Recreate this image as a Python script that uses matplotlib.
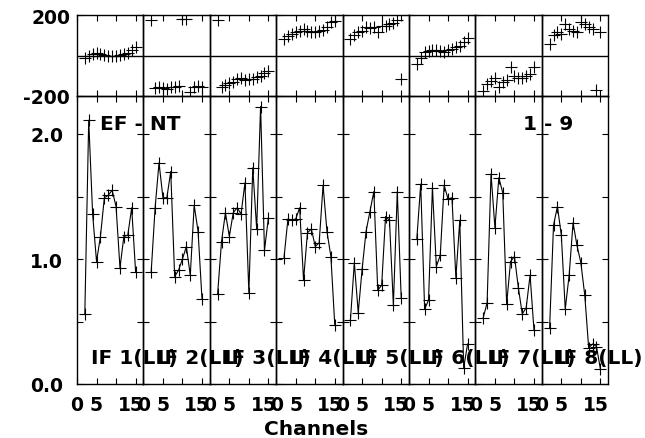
import matplotlib.pyplot as plt
import numpy as np
from matplotlib.transforms import ScaledTranslation

plt.rcParams['font.family'] = ['DejaVu Sans']
plt.rcParams['font.weight'] = 'bold'

channels = np.arange(2, 16)
if_names = ['IF 1(LL)', 'IF 2(LL)', 'IF 3(LL)', 'IF 4(LL)',
            'IF 5(LL)', 'IF 6(LL)', 'IF 7(LL)', 'IF 8(LL)']

# amplitude per IF (channels 2..15)
amp_if1 = [0.56, 2.11, 1.36, 0.98, 1.18, 1.49, 1.51, 1.55, 1.42, 0.93, 1.18, 1.19, 1.41, 0.90]
amp_if2 = [0.90, 1.41, 1.77, 1.49, 1.49, 1.70, 0.86, 0.91, 1.00, 1.10, 0.87, 1.43, 1.22, 0.68]
amp_if3 = [0.72, 1.14, 1.37, 1.18, 1.37, 1.41, 1.36, 1.61, 0.73, 1.73, 1.24, 2.22, 1.07, 1.33]
amp_if4 = [1.01, 1.32, 1.31, 1.32, 1.41, 0.83, 1.21, 1.24, 1.10, 1.13, 1.59, 1.22, 1.02, 0.47]
amp_if5 = [0.51, 0.97, 0.57, 0.92, 1.22, 1.38, 1.54, 0.75, 0.79, 1.34, 1.31, 0.63, 1.54, 0.69]
amp_if6 = [1.16, 1.60, 0.60, 0.67, 1.57, 0.94, 1.03, 1.59, 1.48, 1.49, 0.85, 1.31, 0.13, 0.32]
amp_if7 = [0.53, 0.65, 1.68, 1.25, 1.65, 1.53, 0.64, 0.98, 1.02, 0.77, 0.56, 0.61, 0.87, 0.43]
amp_if8 = [0.45, 1.27, 1.42, 1.19, 0.60, 0.87, 1.29, 1.11, 0.97, 0.71, 0.29, 0.32, 0.30, 0.12]

# phase per IF (degrees)
ph_if1 = [-10, -2, 5, 10, 8, 2, -2, 0, -3, 2, 5, 12, 25, 40]
ph_if2 = [175, -162, -158, -162, -165, -158, -155, -150, 178, 178, -182, -155, -150, -155]
ph_if3 = [177, -157, -145, -138, -130, -118, -112, -120, -118, -115, -108, -100, -85, -78]
ph_if4 = [82, 95, 106, 114, 123, 131, 123, 118, 118, 123, 128, 139, 164, 172]
ph_if5 = [82, 100, 114, 123, 139, 134, 139, 114, 147, 147, 156, 160, 177, -116]
ph_if6 = [-42, -12, 16, 24, 29, 26, 20, 19, 29, 33, 40, 48, 68, 85]
ph_if7 = [-174, -141, -124, -113, -157, -133, -120, -58, -103, -113, -110, -100, -91, -58]
ph_if8 = [57, 100, 115, 106, 156, 131, 120, 115, 164, 156, 140, 131, -169, 115]

amps = [amp_if1, amp_if2, amp_if3, amp_if4, amp_if5, amp_if6, amp_if7, amp_if8]
phases = [ph_if1, ph_if2, ph_if3, ph_if4, ph_if5, ph_if6, ph_if7, ph_if8]

W, H = 645, 439
fig = plt.figure(figsize=(W / 100, H / 100), dpi=100)

x0 = 77 / W
pw = 66.4 / W
shift = ScaledTranslation(-5 / 100, 0, fig.dpi_scale_trans)

for i in range(8):
    axp = fig.add_axes([x0 + i * pw, 1 - 97 / H, pw, 81 / H])
    axa = fig.add_axes([x0 + i * pw, 54 / H, pw, 288 / H])
    for ax in (axp, axa):
        ax.patch.set_visible(False)
        ax.set_xlim(0, 17)
        ax.set_xticks([0, 5, 10, 15])
        ax.tick_params(which='both', direction='in', top=True, bottom=True,
                       left=True, right=True, length=4, width=0.8,
                       labelsize=13.5)
        for s in ax.spines.values():
            s.set_linewidth(1.0)

    # phase
    axp.plot(channels, phases[i], '+', color='black', ms=9, mew=0.8)
    axp.axhline(0, color='black', lw=1.0)
    axp.set_ylim(-200, 200)
    axp.set_yticks([-200, 200])
    axp.set_xticklabels([])
    if i == 0:
        axp.set_yticklabels(['-200', '200'])
        axp.tick_params(axis='y', pad=5)
    else:
        axp.set_yticklabels([])

    # amplitude
    axa.plot(channels, amps[i], '-', color='black', lw=0.8)
    axa.plot(channels, amps[i], '+', color='black', ms=9, mew=0.8)
    axa.set_ylim(0, 2.304)
    axa.set_yticks([0, 1, 2])
    axa.set_yticks([0.5, 1.5], minor=True)
    if i == 0:
        axa.set_yticklabels(['0.0', '1.0', '2.0'])
        axa.tick_params(axis='y', pad=10)
    else:
        axa.set_yticklabels([])
    axa.set_xticklabels(['0', '5', '', '15'])
    axa.tick_params(axis='x', pad=8)
    for lab in axa.get_xticklabels():
        if lab.get_text() == '15':
            lab.set_transform(lab.get_transform() + shift)

    fig.text((77 + i * 66.4 + 14) / W, (H - 364) / H, if_names[i],
             fontsize=14.5, fontweight='bold', va='baseline', ha='left')

fig.text(100 / W, (H - 130) / H, 'EF - NT', fontsize=14.5,
         fontweight='bold', va='baseline', ha='left')
fig.text(523 / W, (H - 130) / H, '1 - 9', fontsize=14.5,
         fontweight='bold', va='baseline', ha='left')
fig.text(316 / W, (H - 435) / H, 'Channels', fontsize=14.5,
         fontweight='bold', va='baseline', ha='center')

fig.savefig('out.png', dpi=100)
